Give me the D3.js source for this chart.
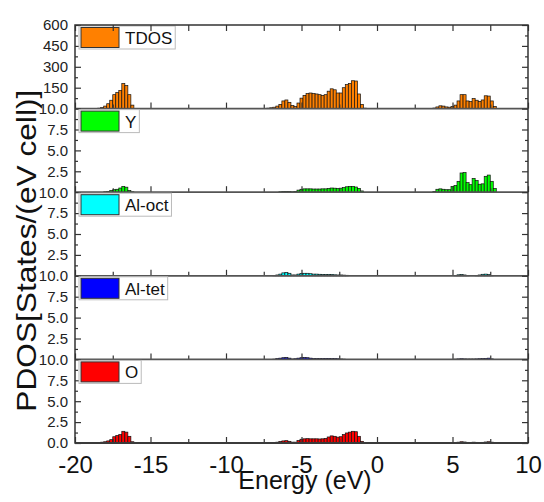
<!DOCTYPE html>
<html>
<head>
<meta charset="utf-8">
<script src="https://cdn.jsdelivr.net/npm/d3@7"></script>
<style>
  body { margin: 0; background: #fff; }
  svg { display: block; font-family: 'Liberation Sans', Arial, sans-serif; }
</style>
</head>
<body>
<div id="chart"></div>
<script>
// Energy bins (eV), 0.2 eV wide, for the three bands
const lowE = [-18.4, -18.2, -18.0, -17.8, -17.6, -17.4, -17.2, -17.0, -16.8, -16.6, -16.4, -16.2];
const midE = [-7.2, -7.0, -6.8, -6.6, -6.4, -6.2, -6.0, -5.8, -5.6, -5.4, -5.2, -5.0, -4.8, -4.6, -4.4, -4.2, -4.0,
  -3.8, -3.6, -3.4, -3.2, -3.0, -2.8, -2.6, -2.4, -2.2, -2.0, -1.8, -1.6, -1.4, -1.2, -1.0, -0.8];
const highE = [3.8, 4.0, 4.2, 4.4, 4.6, 4.8, 5.0, 5.2, 5.4, 5.6, 5.8, 6.0, 6.2, 6.4, 6.6, 6.8, 7.0, 7.2, 7.4, 7.6, 7.8];

// TDOS
const tdosLow = [3, 8, 18, 35, 60, 100, 115, 130, 180, 165, 100, 25];
const tdosMid = [3, 6, 10, 18, 30, 55, 62, 45, 22, 15, 40, 75, 95, 108, 112, 108, 105, 100, 95, 100,
  125, 142, 135, 112, 112, 150, 172, 180, 200, 198, 105, 30, 3];
const tdosHigh = [4, 12, 20, 18, 12, 10, 14, 25, 55, 100, 100, 55, 50, 72, 60, 52, 62, 92, 90, 55, 15];

// Y
const yLow = [0, 0, 0.05, 0.1, 0.2, 0.3, 0.35, 0.5, 0.7, 0.6, 0.2, 0.05];
const yMid = [0, 0, 0, 0, 0.05, 0.08, 0.1, 0.08, 0.05, 0.1, 0.25, 0.35, 0.4, 0.4, 0.4, 0.38, 0.38,
  0.38, 0.4, 0.4, 0.45, 0.5, 0.48, 0.45, 0.48, 0.55, 0.65, 0.7, 0.7, 0.62, 0.45, 0.15, 0];
const yHigh = [0.1, 0.35, 0.4, 0.35, 0.3, 0.3, 0.7, 0.8, 1.3, 2.3, 2.35, 1.15, 0.9, 1.65, 1.4, 0.95, 1.0, 1.9, 2.05, 1.3, 0.45];

// Al-oct
const alOctLow = [0, 0, 0, 0, 0, 0, 0, 0, 0, 0, 0, 0];
const alOctMid = [0, 0, 0.05, 0.1, 0.2, 0.35, 0.4, 0.3, 0.1, 0.1, 0.2, 0.28, 0.3, 0.3, 0.25, 0.2, 0.2,
  0.18, 0.15, 0.15, 0.15, 0.15, 0.12, 0.1, 0.1, 0.08, 0.06, 0, 0, 0, 0, 0, 0];
const alOctHigh = [0, 0, 0, 0, 0, 0, 0, 0.05, 0.12, 0.15, 0.1, 0.05, 0, 0, 0.05, 0.1, 0.18, 0.2, 0.15, 0.05, 0];

// Al-tet
const alTetLow = [0, 0, 0, 0, 0, 0, 0, 0, 0, 0, 0, 0];
const alTetMid = [0, 0, 0.03, 0.1, 0.15, 0.2, 0.22, 0.15, 0.05, 0.08, 0.15, 0.2, 0.22, 0.2, 0.15, 0.1, 0.1,
  0.1, 0.1, 0.12, 0.12, 0.1, 0.1, 0.08, 0.05, 0.03, 0, 0, 0, 0, 0, 0, 0];
const alTetHigh = [0, 0, 0, 0, 0, 0, 0, 0.03, 0.06, 0.08, 0.06, 0.05, 0.05, 0.05, 0.06, 0.08, 0.1, 0.12, 0.15, 0.06, 0];

// O
const oLow = [0.05, 0.1, 0.15, 0.25, 0.4, 0.75, 0.9, 1.0, 1.4, 1.3, 0.8, 0.15];
const oMid = [0, 0.03, 0.06, 0.1, 0.18, 0.25, 0.28, 0.2, 0.1, 0.1, 0.3, 0.45, 0.5, 0.52, 0.5, 0.5, 0.5,
  0.48, 0.5, 0.55, 0.72, 0.85, 0.8, 0.7, 0.75, 1.0, 1.2, 1.3, 1.4, 1.35, 0.8, 0.2, 0];
const oHigh = [0, 0, 0, 0, 0, 0, 0, 0.05, 0.1, 0.15, 0.12, 0.08, 0.06, 0.1, 0.08, 0.06, 0.08, 0.12, 0.15, 0.1, 0];

const panelNames = ['TDOS', 'Y', 'Al-oct', 'Al-tet', 'O'];
const panelColors = ['#ff8000', '#00ff00', '#00ffff', '#0000ff', '#ff0000'];
const panelMax = [600, 10, 10, 10, 10];
const panelSeries = [
  [tdosLow, tdosMid, tdosHigh],
  [yLow, yMid, yHigh],
  [alOctLow, alOctMid, alOctHigh],
  [alTetLow, alTetMid, alTetHigh],
  [oLow, oMid, oHigh]
];

const tdosTicks = [150, 300, 450, 600];
const tdosMinor = [75, 225, 375, 525];
const pdosTicks = [2.5, 5.0, 7.5, 10.0];
const pdosMinor = [1.25, 3.75, 6.25, 8.75];
const xTicks = [-20, -15, -10, -5, 0, 5, 10];
const xMinor = [-17.5, -12.5, -7.5, -2.5, 2.5, 7.5];
const binWidth = 0.2;

const chartWidth = 544;
const chartHeight = 502;
const plotLeft = 75;
const plotRight = 528;
const plotTop = 25;
const panelH = 83.6;
const fontFamily = "'Liberation Sans', Arial, sans-serif";

const svg = d3.select('#chart').append('svg').attr('width', chartWidth).attr('height', chartHeight);

const x = d3.scaleLinear().domain([-20, 10]).range([plotLeft, plotRight]);

const styleTicks = (g) => {
  g.select('.domain').remove();
  g.selectAll('.tick line').attr('stroke', '#333').attr('stroke-width', 1.2);
};

panelNames.forEach((name, p) => {
  const y0 = plotTop + p * panelH;
  const y1 = y0 + panelH;
  const y = d3.scaleLinear().domain([0, panelMax[p]]).range([y1, y0]);
  const isLast = p === panelNames.length - 1;

  // Bars from the three bands
  const bins = [lowE, midE, highE]
    .flatMap((energies, b) => energies.map((e, i) => ({ e, v: panelSeries[p][b][i] })))
    .filter((d) => d.v > 0);

  svg.append('g')
    .selectAll('rect')
    .data(bins)
    .join('rect')
    .attr('x', (d) => x(d.e - binWidth / 2))
    .attr('width', x(binWidth) - x(0))
    .attr('y', (d) => y(d.v))
    .attr('height', (d) => y1 - y(d.v))
    .attr('fill', panelColors[p])
    .attr('stroke', '#111')
    .attr('stroke-width', 0.7);

  const major = p === 0 ? tdosTicks : (isLast ? [0].concat(pdosTicks) : pdosTicks);
  const minor = p === 0 ? tdosMinor : pdosMinor;
  const fmt = p === 0 ? (d) => String(d) : (d) => d.toFixed(1);

  // Left axis (ticks point inward)
  svg.append('g')
    .attr('transform', `translate(${plotLeft},0)`)
    .call(d3.axisLeft(y).tickValues(major).tickSizeInner(-6).tickSizeOuter(0).tickPadding(7).tickFormat(fmt))
    .call(styleTicks)
    .call((g) => g.selectAll('.tick text').attr('fill', '#222').attr('font-size', 15).attr('font-family', fontFamily));

  svg.append('g')
    .attr('transform', `translate(${plotLeft},0)`)
    .call(d3.axisLeft(y).tickValues(minor).tickSizeInner(-3).tickSizeOuter(0).tickFormat(''))
    .call(styleTicks);

  // Right axis, no labels
  svg.append('g')
    .attr('transform', `translate(${plotRight},0)`)
    .call(d3.axisRight(y).tickValues(major).tickSizeInner(-6).tickSizeOuter(0).tickFormat(''))
    .call(styleTicks);

  svg.append('g')
    .attr('transform', `translate(${plotRight},0)`)
    .call(d3.axisRight(y).tickValues(minor).tickSizeInner(-3).tickSizeOuter(0).tickFormat(''))
    .call(styleTicks);

  // Bottom axis of each panel, ticks pointing up (labels only on the last one)
  svg.append('g')
    .attr('transform', `translate(0,${y1})`)
    .call(d3.axisBottom(x).tickValues(xTicks).tickSizeInner(-6).tickSizeOuter(0).tickPadding(13)
      .tickFormat(isLast ? (d) => String(d) : ''))
    .call(styleTicks)
    .call((g) => g.selectAll('.tick text').attr('fill', '#111').attr('font-size', 24).attr('font-family', fontFamily));

  svg.append('g')
    .attr('transform', `translate(0,${y1})`)
    .call(d3.axisBottom(x).tickValues(xMinor).tickSizeInner(-4).tickSizeOuter(0).tickFormat(''))
    .call(styleTicks);

  // Panel baseline
  svg.append('line')
    .attr('x1', plotLeft).attr('x2', plotRight)
    .attr('y1', y1).attr('y2', y1)
    .attr('stroke', '#555')
    .attr('stroke-width', 1.8);

  // Legend box
  const legend = svg.append('g').attr('transform', `translate(${plotLeft + 4},${y0 + 1})`);
  const box = legend.append('rect')
    .attr('height', 23)
    .attr('fill', '#fff')
    .attr('stroke', '#bbb')
    .attr('stroke-width', 1);
  legend.append('rect')
    .attr('x', 2).attr('y', 1.5)
    .attr('width', 38).attr('height', 20)
    .attr('fill', panelColors[p])
    .attr('stroke', '#333')
    .attr('stroke-width', 1);
  const label = legend.append('text')
    .attr('x', 46).attr('y', 18)
    .attr('font-size', 17)
    .attr('fill', '#111')
    .text(name);
  box.attr('width', 46 + label.node().getComputedTextLength() + 3);
});

// Top axis, ticks pointing down
svg.append('g')
  .attr('transform', `translate(0,${plotTop})`)
  .call(d3.axisTop(x).tickValues(xTicks.concat(xMinor)).tickSizeInner(-6).tickSizeOuter(0).tickFormat(''))
  .call(styleTicks);

// Frame
svg.append('rect')
  .attr('x', plotLeft).attr('y', plotTop)
  .attr('width', plotRight - plotLeft)
  .attr('height', panelH * panelNames.length)
  .attr('fill', 'none')
  .attr('stroke', '#333')
  .attr('stroke-width', 1.5);

// Axis titles (the x title sits over the tick labels, as in the original)
svg.append('text')
  .attr('transform', `translate(36,${plotTop + panelH * 2.7}) rotate(-90)`)
  .attr('text-anchor', 'middle')
  .attr('font-size', 28)
  .attr('textLength', 322)
  .attr('lengthAdjust', 'spacingAndGlyphs')
  .attr('fill', '#111')
  .text('PDOS[States/(eV cell)]');

svg.append('text')
  .attr('x', 305).attr('y', 489)
  .attr('text-anchor', 'middle')
  .attr('font-size', 25)
  .attr('fill', '#111')
  .text('Energy (eV)');
</script>
</body>
</html>
